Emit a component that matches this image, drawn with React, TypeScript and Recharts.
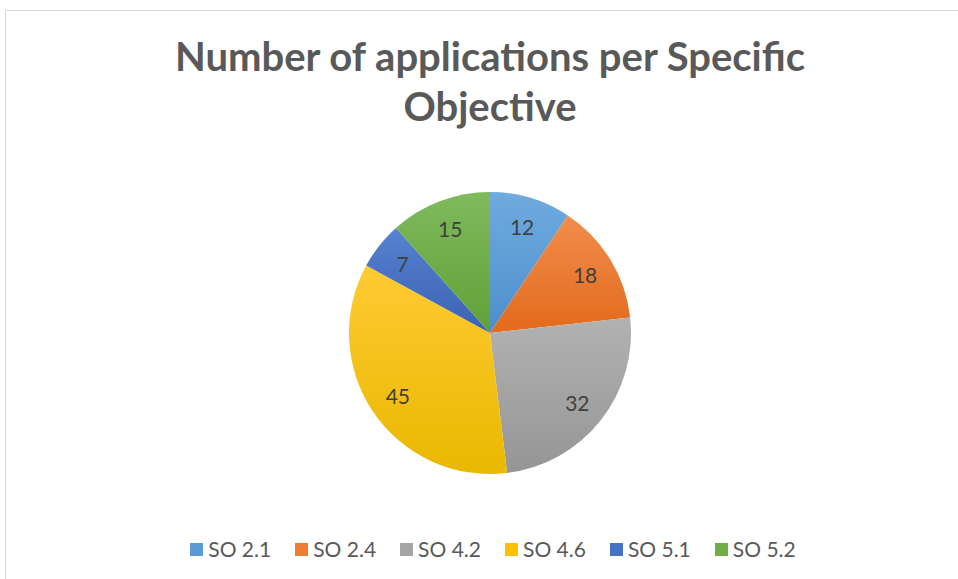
import React from "react";
import { PieChart, Pie, Cell } from "recharts";

const categories = ["SO 2.1", "SO 2.4", "SO 4.2", "SO 4.6", "SO 5.1", "SO 5.2"];
const applications = [12, 18, 32, 45, 7, 15];
const colorsTop = ["#70ABDF", "#F28D4D", "#B2B2B2", "#FFCA33", "#5682CF", "#7FBA5C"];
const colorsBottom = ["#4C8ECB", "#E26A1B", "#959595", "#E9B800", "#3B62B3", "#61A037"];
const legendColors = ["#5B9BD5", "#ED7D31", "#A5A5A5", "#FFC000", "#4472C4", "#70AD47"];

const data = categories.map((name, i) => ({ name, value: applications[i] }));

const FONT = "Lato, 'Open Sans', sans-serif";
const RAD = Math.PI / 180;

function SliceLabel({ cx, cy, midAngle, outerRadius, value }: any) {
  const r = outerRadius * 0.79;
  const x = cx + r * Math.cos(-midAngle * RAD);
  const y = cy + r * Math.sin(-midAngle * RAD);
  return (
    <text x={x} y={y} fill="#404040" fontSize={21} fontFamily={FONT}
      textAnchor="middle" dominantBaseline="central">
      {value}
    </text>
  );
}

function LegendRow() {
  return (
    <div style={{
      position: "absolute", top: 537, left: 0, width: 986,
      display: "flex", justifyContent: "center", gap: 24,
      fontFamily: FONT, fontSize: 21, lineHeight: "24px", color: "#595959",
    }}>
      {categories.map((c, i) => (
        <div key={c} style={{ display: "flex", alignItems: "center", gap: 5 }}>
          <span style={{ width: 13, height: 13, background: legendColors[i], display: "inline-block" }} />
          <span>{c}</span>
        </div>
      ))}
    </div>
  );
}

export default function App() {
  return (
    <div style={{ position: "absolute", left: 0, top: 0, width: 958, height: 579, background: "#fff", overflow: "hidden" }}>
      <div style={{ position: "absolute", left: 5, top: 10, right: -2, bottom: -2, borderTop: "1px solid #D9D9D9", borderLeft: "1px solid #D9D9D9" }} />
      <div style={{
        position: "absolute", left: 0, width: 980, top: 31, textAlign: "center",
        fontFamily: FONT, fontWeight: 700, fontSize: 40, lineHeight: "50px", color: "#595959",
      }}>
        Number of applications per Specific<br />Objective
      </div>
      <PieChart width={958} height={579} margin={{ top: 0, right: 0, bottom: 0, left: 0 }}
        style={{ position: "absolute", left: 0, top: 0 }}>
        <defs>
          {categories.map((c, i) => (
            <linearGradient key={c} id={`grad${i}`} x1="0" y1="0" x2="0" y2="1">
              <stop offset="0%" stopColor={colorsTop[i]} />
              <stop offset="100%" stopColor={colorsBottom[i]} />
            </linearGradient>
          ))}
        </defs>
        <Pie data={data} dataKey="value" nameKey="name" cx={490} cy={333} outerRadius={141}
          startAngle={90} endAngle={-270} stroke="none" label={SliceLabel} labelLine={false}
          isAnimationActive={false}>
          {data.map((d, i) => (
            <Cell key={d.name} fill={`url(#grad${i})`} />
          ))}
        </Pie>
      </PieChart>
      <LegendRow />
    </div>
  );
}
